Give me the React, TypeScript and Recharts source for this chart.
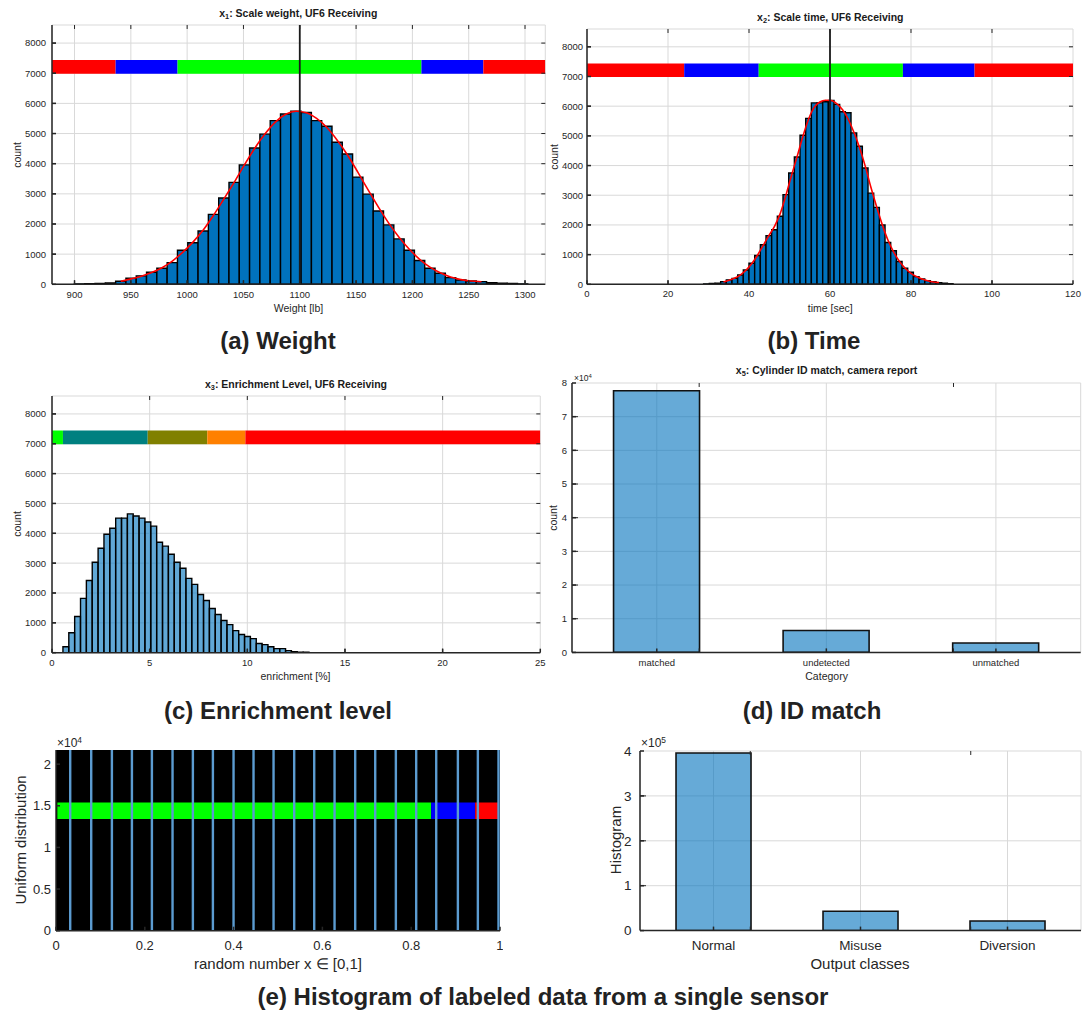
import React from 'react';
import {
  ComposedChart,
  Bar,
  Line,
  XAxis,
  YAxis,
  CartesianGrid,
  ReferenceArea,
  ReferenceLine,
} from 'recharts';

const FONT = '"Liberation Sans", Arial, Helvetica, sans-serif';
const AXIS = '#262626';
const GRID = '#d9d9d9';

// ---------------- shared ticks ----------------
const countTicks = [0, 1000, 2000, 3000, 4000, 5000, 6000, 7000, 8000];
const countMax = 8600;
const bandLow = 6980;
const bandHigh = 7440;

// ---------------- (a) weight ----------------
const weightDomain: [number, number] = [880, 1318];
const weightTicks = [900, 950, 1000, 1050, 1100, 1150, 1200, 1250, 1300];
const weightBinStart = 899.9;
const weightBinWidth = 9.15;
const weightCounts = [
  15, 20, 30, 45, 100, 200, 280, 400, 530, 720, 1130, 1380, 1770, 2320, 2860, 3380, 3960, 4520,
  4980, 5430, 5650, 5740, 5700, 5430, 5240, 4710, 4320, 3555, 2990, 2430, 1970, 1505, 1130, 790,
  530, 365, 220, 145, 110, 90, 50, 35, 25, 15,
];
const weightFitFirstBin = 4;
const weightFit = [
  100, 180, 270, 390, 550, 770, 1060, 1400, 1800, 2290, 2830, 3380, 3960, 4510, 4990, 5380, 5640,
  5740, 5690, 5500, 5200, 4780, 4290, 3720, 3130, 2560, 2030, 1560, 1160, 830, 570, 380, 240, 155,
  110, 85,
];
const weightBandEdges = [880, 936.5, 991.5, 1208, 1263, 1318];
const weightNominal = 1100;

// ---------------- (b) time ----------------
const timeDomain: [number, number] = [0, 120];
const timeTicks = [0, 20, 40, 60, 80, 100, 120];
const timeBinStart = 28.8;
const timeBinWidth = 1.4;
const timeCounts = [
  15, 25, 40, 90, 150, 200, 315, 480, 710, 970, 1330, 1640, 1835, 2290, 3020, 3750, 4290, 5020,
  5590, 6110, 6110, 6150, 6190, 6060, 5810, 5780, 5100, 4650, 3920, 3070, 2590, 2000, 1410, 1130,
  770, 540, 405, 260, 180, 125, 90, 55, 35, 20,
];
const timeFitFirstBin = 3;
const timeFit = [
  80, 140, 210, 320, 480, 700, 980, 1310, 1640, 1950, 2380, 2990, 3670, 4310, 4980, 5560, 5960,
  6140, 6200, 6190, 6080, 5880, 5560, 5120, 4600, 3980, 3270, 2620, 2010, 1490, 1090, 780, 550, 380,
  260, 175, 120, 80, 55,
];
const timeBandEdges = [0, 24, 42.4, 78, 95.7, 120];
const timeNominal = 60;

const fiveBandColors = ['#ff0000', '#0000ff', '#00ff00', '#0000ff', '#ff0000'];

// ---------------- (c) enrichment ----------------
const enrichDomain: [number, number] = [0, 25];
const enrichTicks = [0, 5, 10, 15, 20, 25];
const enrichBinStart = 0.56;
const enrichBinWidth = 0.3;
const enrichCounts = [
  200, 670, 1210, 1820, 2420, 3030, 3500, 3970, 4170, 4510, 4510, 4650, 4580, 4510, 4380, 4240, 3700,
  3570, 3300, 3030, 2830, 2490, 2290, 1950, 1750, 1480, 1280, 1080, 940, 740, 610, 540, 470, 310, 270,
  200, 135, 135, 70, 30, 20, 15,
];
const enrichBandEdges = [0, 0.56, 4.9, 7.95, 9.9, 25];
const enrichBandColors = ['#00ff00', '#008080', '#808000', '#ff8000', '#ff0000'];

// ---------------- (d) ID match ----------------
const idCategories = ['matched', 'undetected', 'unmatched'];
const idCounts = [77700, 6500, 2800];
const idTicks = [0, 10000, 20000, 30000, 40000, 50000, 60000, 70000, 80000];

// ---------------- (e) uniform ----------------
const uniformBinCenters = [
  0.0315, 0.0788, 0.1254, 0.1705, 0.2155, 0.262, 0.3078, 0.3529, 0.3994, 0.4444, 0.4895, 0.536,
  0.5811, 0.6269, 0.6734, 0.7185, 0.765, 0.8108, 0.8559, 0.9047, 0.9497, 0.9962,
];
const uniformCounts = [
  21700, 21700, 21700, 21700, 21700, 21700, 21700, 21700, 21700, 21700, 21700, 21700, 21700, 21700,
  21700, 21700, 21700, 21700, 21700, 21700, 21700, 21700,
];
const uniformXTicks = [0, 0.2, 0.4, 0.6, 0.8, 1];
const uniformYTicks = [0, 5000, 10000, 15000, 20000];
const uniformYMax = 21700;
const uniformBandEdges = [0.003, 0.845, 0.944, 0.998];
const uniformBandLow = 13400;
const uniformBandHigh = 15400;
const uniformBandColors = ['#00ff00', '#0000ff', '#ff0000'];

// ---------------- (f) output classes ----------------
const classNames = ['Normal', 'Misuse', 'Diversion'];
const classCounts = [395500, 43000, 21400];
const classTicks = [0, 100000, 200000, 300000, 400000];

// ---------------- layout ----------------
type Box = { l: number; t: number; w: number; h: number };
const ML = 50;
const MT = 6;
const MB = 30;
const TICK_LEN = 4;

const boxA: Box = { l: 51.7, t: 25, w: 493.3, h: 259.3 };
const boxB: Box = { l: 587.3, t: 29, w: 486, h: 255.3 };
const boxC: Box = { l: 51.7, t: 396, w: 488.3, h: 256.7 };
const boxD: Box = { l: 572.3, t: 383.3, w: 508.7, h: 269.4 };
const boxE: Box = { l: 56, t: 750, w: 444, h: 180.7 };
const boxF: Box = { l: 640, t: 750.7, w: 441, h: 179.6 };

const noTick = () => <g />;

function buildHist(start: number, width: number, counts: number[]) {
  return counts.map((c, i) => ({ x: start + (i + 0.5) * width, count: c }));
}
function buildFit(start: number, width: number, first: number, vals: number[]) {
  return vals.map((v, i) => ({ x: start + (first + i + 0.5) * width, fit: v }));
}

// inward tick marks on all four sides of the axes box (MATLAB style)
function edgeTicks(
  xTicks: number[],
  yTicks: number[],
  xDom: [number, number],
  yDom: [number, number],
  box: Box,
  xAxisId: string | number
) {
  const dx = (TICK_LEN * (xDom[1] - xDom[0])) / box.w;
  const dy = (TICK_LEN * (yDom[1] - yDom[0])) / box.h;
  const common = { xAxisId, stroke: AXIS, strokeWidth: 1, ifOverflow: 'visible' as const };
  const out: React.ReactNode[] = [];
  xTicks.forEach((x, i) => {
    if (x <= xDom[0] || x >= xDom[1]) return;
    out.push(
      <ReferenceLine key={`tb${i}`} {...common} segment={[{ x, y: yDom[0] }, { x, y: yDom[0] + dy }]} />
    );
    out.push(
      <ReferenceLine key={`tt${i}`} {...common} segment={[{ x, y: yDom[1] }, { x, y: yDom[1] - dy }]} />
    );
  });
  yTicks.forEach((y, i) => {
    if (y <= yDom[0] || y >= yDom[1]) return;
    out.push(
      <ReferenceLine key={`tl${i}`} {...common} segment={[{ x: xDom[0], y }, { x: xDom[0] + dx, y }]} />
    );
    out.push(
      <ReferenceLine key={`tr${i}`} {...common} segment={[{ x: xDom[1], y }, { x: xDom[1] - dx, y }]} />
    );
  });
  return out;
}

type HistProps = {
  box: Box;
  xDomain: [number, number];
  xTicks: number[];
  hist: { x: number; count: number }[];
  binWidth: number;
  fill: string;
  fillOpacity: number;
  fit?: { x: number; fit: number }[];
  bandEdges: number[];
  bandColors: string[];
  nominal?: number;
  xTickMargin: number;
  yTickMargin: number;
  mr: number;
};

function HistPanel(p: HistProps) {
  const W = p.box.w + ML + p.mr;
  const H = p.box.h + MT + MB;
  const barPx = (p.binWidth / (p.xDomain[1] - p.xDomain[0])) * p.box.w - 0.05;
  return (
    <div style={{ position: 'absolute', left: p.box.l - ML, top: p.box.t - MT }}>
      <ComposedChart
        width={W}
        height={H}
        data={p.hist}
        margin={{ top: MT, right: p.mr, bottom: 0, left: 0 }}
        barCategoryGap={0}
        barGap={0}
      >
        <CartesianGrid stroke={GRID} strokeWidth={1} />
        <XAxis
          dataKey="x"
          type="number"
          domain={p.xDomain}
          ticks={p.xTicks}
          allowDataOverflow
          interval={0}
          height={MB}
          tickSize={-4}
          tickMargin={p.xTickMargin}
          stroke={AXIS}
          strokeWidth={1.5}
          tick={{ fill: AXIS, fontSize: 9.5 }}
        />
        <YAxis
          type="number"
          domain={[0, countMax]}
          ticks={countTicks}
          allowDataOverflow
          interval={0}
          width={ML}
          tickSize={-4}
          tickMargin={p.yTickMargin}
          stroke={AXIS}
          strokeWidth={1.5}
          tick={{ fill: AXIS, fontSize: 9.5 }}
        />
        <XAxis
          xAxisId="top"
          orientation="top"
          type="number"
          domain={p.xDomain}
          ticks={p.xTicks}
          allowDataOverflow
          interval={0}
          height={0}
          tickLine={false}
          tick={noTick}
          stroke={AXIS}
          strokeWidth={1.5}
        />
        <YAxis
          yAxisId="right"
          orientation="right"
          type="number"
          domain={[0, countMax]}
          ticks={countTicks}
          allowDataOverflow
          interval={0}
          width={0}
          tickLine={false}
          tick={noTick}
          stroke={AXIS}
          strokeWidth={1.5}
        />
        <Bar
          dataKey="count"
          barSize={barPx}
          fill={p.fill}
          fillOpacity={p.fillOpacity}
          stroke="#000"
          strokeWidth={1.4}
          isAnimationActive={false}
        />
        {p.fit && (
          <Line
            data={p.fit}
            dataKey="fit"
            type="monotone"
            stroke="#ff0000"
            strokeWidth={1.6}
            dot={false}
            isAnimationActive={false}
          />
        )}
        {p.bandColors.map((c, i) => (
          <ReferenceArea
            key={i}
            x1={p.bandEdges[i]}
            x2={p.bandEdges[i + 1]}
            y1={bandLow}
            y2={bandHigh}
            fill={c}
            fillOpacity={1}
            stroke="none"
            ifOverflow="hidden"
          />
        ))}
        {p.nominal !== undefined && (
          <ReferenceLine x={p.nominal} stroke="#1a1a1a" strokeWidth={1.8} />
        )}
        {edgeTicks(p.xTicks, countTicks, p.xDomain, [0, countMax], p.box, 0)}
      </ComposedChart>
    </div>
  );
}

type CatProps = {
  box: Box;
  names: string[];
  counts: number[];
  yMax: number;
  yTicks: number[];
  yScale: number;
  tickFont: number;
  xTickMargin: number;
  yTickMargin: number;
};

function CatPanel(p: CatProps) {
  const mr = 3;
  const W = p.box.w + ML + mr;
  const H = p.box.h + MT + MB;
  const data = p.names.map((n, i) => ({ name: n, count: p.counts[i] }));
  const topDomain: [number, number] = [0, p.names.length];
  const topTicks = p.names.map((_, i) => i + 0.5);
  return (
    <div style={{ position: 'absolute', left: p.box.l - ML, top: p.box.t - MT }}>
      <ComposedChart
        width={W}
        height={H}
        data={data}
        margin={{ top: MT, right: mr, bottom: 0, left: 0 }}
        barCategoryGap="24.5%"
      >
        <CartesianGrid stroke={GRID} strokeWidth={1} />
        <XAxis
          dataKey="name"
          type="category"
          interval={0}
          height={MB}
          tickSize={-4}
          tickMargin={p.xTickMargin}
          stroke={AXIS}
          strokeWidth={1.5}
          tick={{ fill: AXIS, fontSize: p.tickFont }}
        />
        <YAxis
          type="number"
          domain={[0, p.yMax]}
          ticks={p.yTicks}
          allowDataOverflow
          interval={0}
          width={ML}
          tickSize={-4}
          tickMargin={p.yTickMargin}
          stroke={AXIS}
          strokeWidth={1.5}
          tickFormatter={(v: number) => String(v / p.yScale)}
          tick={{ fill: AXIS, fontSize: p.tickFont }}
        />
        <XAxis
          xAxisId="top"
          orientation="top"
          type="number"
          domain={topDomain}
          ticks={topTicks}
          allowDataOverflow
          interval={0}
          height={0}
          tickLine={false}
          tick={noTick}
          stroke={AXIS}
          strokeWidth={1.5}
        />
        <YAxis
          yAxisId="right"
          orientation="right"
          type="number"
          domain={[0, p.yMax]}
          ticks={p.yTicks}
          allowDataOverflow
          interval={0}
          width={0}
          tickLine={false}
          tick={noTick}
          stroke={AXIS}
          strokeWidth={1.5}
        />
        <Bar
          dataKey="count"
          fill="#0072BD"
          fillOpacity={0.6}
          stroke="#111"
          strokeWidth={1.6}
          isAnimationActive={false}
        />
        {edgeTicks(topTicks, p.yTicks, topDomain, [0, p.yMax], p.box, 'top')}
      </ComposedChart>
    </div>
  );
}

function UniformPanel() {
  const b = boxE;
  const mr = 3;
  const W = b.w + ML + mr;
  const H = b.h + MT + MB;
  const data = uniformBinCenters.map((x, i) => ({ x, count: uniformCounts[i] }));
  return (
    <div style={{ position: 'absolute', left: b.l - ML, top: b.t - MT }}>
      <ComposedChart
        width={W}
        height={H}
        data={data}
        margin={{ top: MT, right: mr, bottom: 0, left: 0 }}
      >
        <CartesianGrid fill="#000" fillOpacity={1} stroke="none" horizontal={false} vertical={false} />
        <XAxis
          dataKey="x"
          type="number"
          domain={[0, 1]}
          ticks={uniformXTicks}
          allowDataOverflow
          interval={0}
          height={MB}
          tickSize={-4}
          tickMargin={14}
          stroke={AXIS}
          strokeWidth={1.5}
          tickFormatter={(v: number) => String(v)}
          tick={{ fill: AXIS, fontSize: 13 }}
        />
        <YAxis
          type="number"
          domain={[0, uniformYMax]}
          ticks={uniformYTicks}
          allowDataOverflow
          interval={0}
          width={ML}
          tickSize={-4}
          tickMargin={9}
          stroke={AXIS}
          strokeWidth={1.5}
          tickFormatter={(v: number) => String(v / 10000)}
          tick={{ fill: AXIS, fontSize: 13 }}
        />
        <XAxis
          xAxisId="top"
          orientation="top"
          type="number"
          domain={[0, 1]}
          ticks={uniformXTicks}
          allowDataOverflow
          interval={0}
          height={0}
          tickLine={false}
          tick={noTick}
          stroke="#a0a0a0"
          strokeWidth={1.5}
        />
        <YAxis
          yAxisId="right"
          orientation="right"
          type="number"
          domain={[0, uniformYMax]}
          ticks={uniformYTicks}
          allowDataOverflow
          interval={0}
          width={0}
          tickLine={false}
          tick={noTick}
          stroke="#a0a0a0"
          strokeWidth={1.5}
        />
        <Bar dataKey="count" barSize={2.4} fill="#5b9bd0" isAnimationActive={false} />
        {uniformBandColors.map((c, i) => (
          <ReferenceArea
            key={i}
            x1={uniformBandEdges[i]}
            x2={uniformBandEdges[i + 1]}
            y1={uniformBandLow}
            y2={uniformBandHigh}
            fill={c}
            fillOpacity={1}
            stroke="none"
            ifOverflow="hidden"
          />
        ))}
      </ComposedChart>
    </div>
  );
}

function T(props: {
  x: number;
  y: number;
  size: number;
  bold?: boolean;
  rotate?: boolean;
  anchor?: 'start' | 'middle';
  color?: string;
  children: React.ReactNode;
}) {
  const tx = props.anchor === 'start' ? '0' : '-50%';
  return (
    <div
      style={{
        position: 'absolute',
        left: props.x,
        top: props.y,
        transform: `translate(${tx},-50%)${props.rotate ? ' rotate(-90deg)' : ''}`,
        fontSize: props.size,
        fontWeight: props.bold ? 700 : 400,
        whiteSpace: 'nowrap',
        lineHeight: 1,
        color: props.color || AXIS,
      }}
    >
      {props.children}
    </div>
  );
}

const subStyle: React.CSSProperties = { fontSize: '70%', verticalAlign: '-0.25em', lineHeight: 0 };
const supStyle: React.CSSProperties = { fontSize: '70%', verticalAlign: '0.5em', lineHeight: 0 };

export default function App() {
  const weightHist = buildHist(weightBinStart, weightBinWidth, weightCounts);
  const weightFitData = buildFit(weightBinStart, weightBinWidth, weightFitFirstBin, weightFit);
  const timeHist = buildHist(timeBinStart, timeBinWidth, timeCounts);
  const timeFitData = buildFit(timeBinStart, timeBinWidth, timeFitFirstBin, timeFit);
  const enrichHist = buildHist(enrichBinStart, enrichBinWidth, enrichCounts);

  return (
    <div
      style={{
        position: 'absolute',
        left: 0,
        top: 0,
        width: 1084,
        height: 1016,
        background: '#fff',
        fontFamily: FONT,
        color: AXIS,
        overflow: 'hidden',
      }}
    >
      {/* (a) */}
      <HistPanel
        box={boxA}
        xDomain={weightDomain}
        xTicks={weightTicks}
        hist={weightHist}
        binWidth={weightBinWidth}
        fill="#0072BD"
        fillOpacity={1}
        fit={weightFitData}
        bandEdges={weightBandEdges}
        bandColors={fiveBandColors}
        nominal={weightNominal}
        xTickMargin={11}
        yTickMargin={10}
        mr={3}
      />
      <T x={298.3} y={12.6} size={10.5} bold color="#1a1a1a">
        x<span style={subStyle}>1</span>: Scale weight, UF6 Receiving
      </T>
      <T x={17} y={155} size={10.5} rotate>count</T>
      <T x={298.5} y={308.3} size={10.5}>Weight [lb]</T>

      {/* (b) */}
      <HistPanel
        box={boxB}
        xDomain={timeDomain}
        xTicks={timeTicks}
        hist={timeHist}
        binWidth={timeBinWidth}
        fill="#0072BD"
        fillOpacity={1}
        fit={timeFitData}
        bandEdges={timeBandEdges}
        bandColors={fiveBandColors}
        nominal={timeNominal}
        xTickMargin={10}
        yTickMargin={8}
        mr={10}
      />
      <T x={830.3} y={16.5} size={10.5} bold color="#1a1a1a">
        x<span style={subStyle}>2</span>: Scale time, UF6 Receiving
      </T>
      <T x={554} y={157} size={10.5} rotate>count</T>
      <T x={830.3} y={308.3} size={10.5}>time [sec]</T>

      {/* (c) */}
      <HistPanel
        box={boxC}
        xDomain={enrichDomain}
        xTicks={enrichTicks}
        hist={enrichHist}
        binWidth={enrichBinWidth}
        fill="#0072BD"
        fillOpacity={0.62}
        bandEdges={enrichBandEdges}
        bandColors={enrichBandColors}
        xTickMargin={11}
        yTickMargin={10}
        mr={10}
      />
      <T x={296} y={384.3} size={10.5} bold color="#1a1a1a">
        x<span style={subStyle}>3</span>: Enrichment Level, UF6 Receiving
      </T>
      <T x={17} y={524} size={10.5} rotate>count</T>
      <T x={295.5} y={676} size={10.5}>enrichment [%]</T>

      {/* (d) */}
      <CatPanel
        box={boxD}
        names={idCategories}
        counts={idCounts}
        yMax={80000}
        yTicks={idTicks}
        yScale={10000}
        tickFont={9.5}
        xTickMargin={10.5}
        yTickMargin={9}
      />
      <T x={826.6} y={370} size={10.5} bold color="#1a1a1a">
        x<span style={subStyle}>5</span>: Cylinder ID match, camera report
      </T>
      <T x={574} y={377.5} size={8.5} anchor="start">
        ×10<span style={supStyle}>4</span>
      </T>
      <T x={553} y={518} size={10.5} rotate>count</T>
      <T x={826.6} y={676} size={10.5}>Category</T>

      {/* (e) */}
      <UniformPanel />
      <T x={57} y={743} size={12} anchor="start">
        ×10<span style={supStyle}>4</span>
      </T>
      <T x={20} y={840} size={15} rotate>Uniform distribution</T>
      <T x={278} y={963} size={15}>random number x ∈ [0,1]</T>

      {/* (f) */}
      <CatPanel
        box={boxF}
        names={classNames}
        counts={classCounts}
        yMax={400000}
        yTicks={classTicks}
        yScale={100000}
        tickFont={13.5}
        xTickMargin={14}
        yTickMargin={12.5}
      />
      <T x={641} y={743} size={12} anchor="start">
        ×10<span style={supStyle}>5</span>
      </T>
      <T x={615} y={840} size={15} rotate>Histogram</T>
      <T x={860} y={962.5} size={15}>Output classes</T>

      {/* captions */}
      <T x={278} y={341} size={24} bold color="#222">(a) Weight</T>
      <T x={814} y={341} size={24} bold color="#222">(b) Time</T>
      <T x={278} y={711} size={24} bold color="#222">(c) Enrichment level</T>
      <T x={812} y={711} size={24} bold color="#222">(d) ID match</T>
      <T x={543} y={997} size={24} bold color="#222">
        (e) Histogram of labeled data from a single sensor
      </T>
    </div>
  );
}
